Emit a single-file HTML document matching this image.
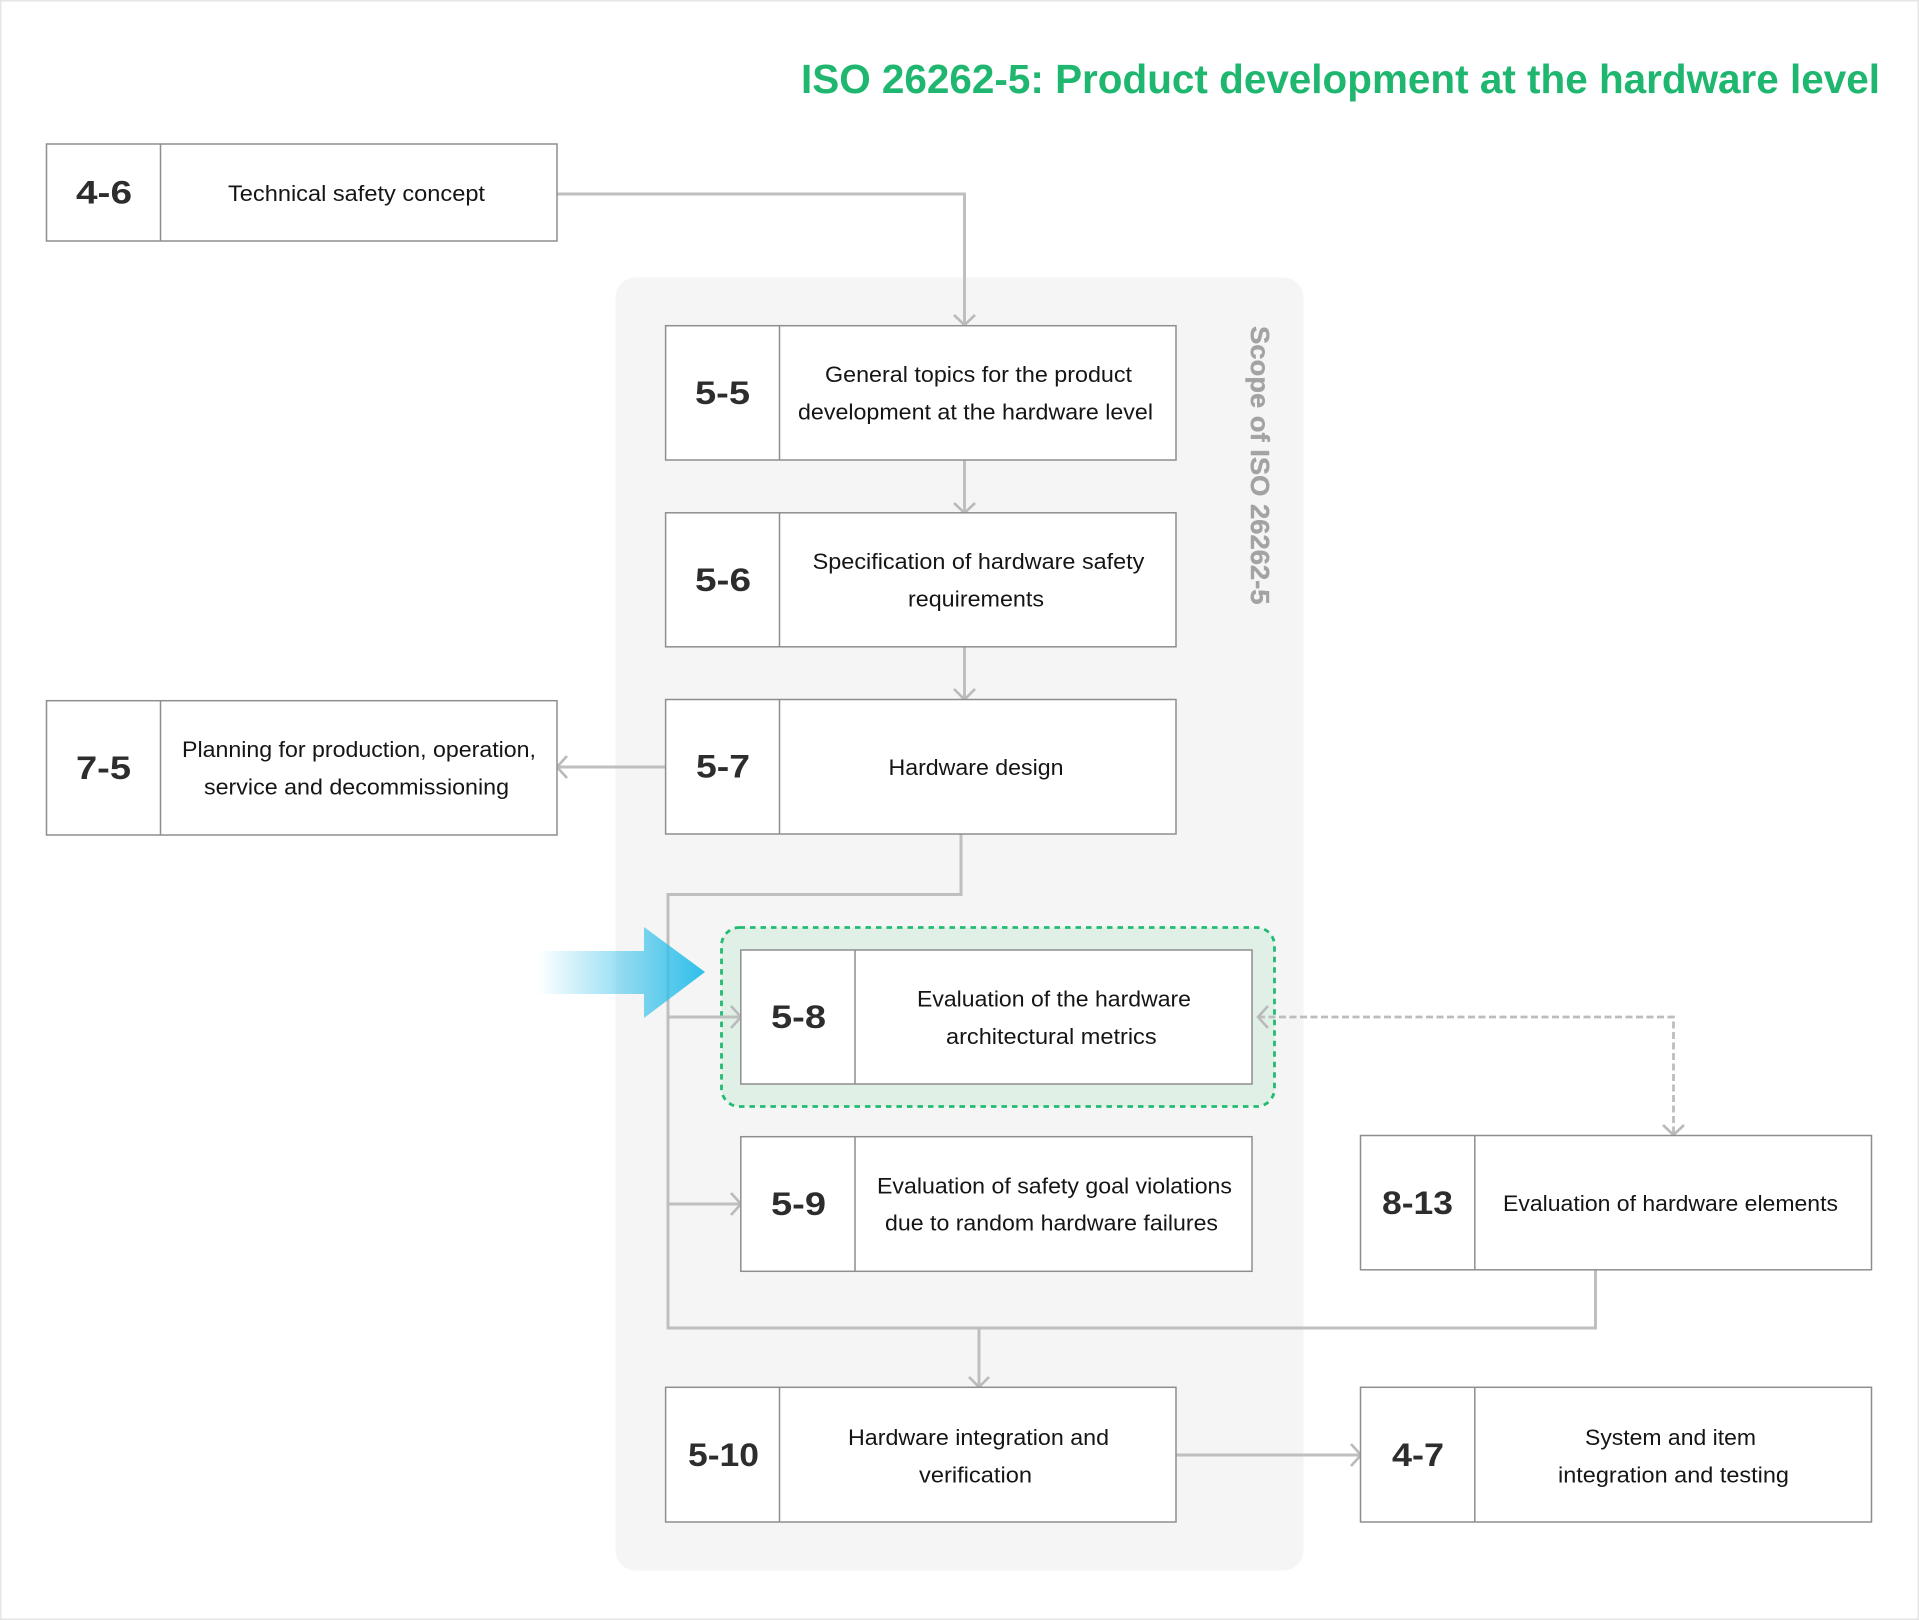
<!DOCTYPE html>
<html><head><meta charset="utf-8"><title>ISO 26262-5</title>
<style>
html,body{margin:0;padding:0;background:#fff}
svg{display:block}
text{font-family:"Liberation Sans",sans-serif}
.b{fill:#fff;stroke:#8e8e8e;stroke-width:1.5}
.d{stroke:#8e8e8e;stroke-width:1.5}
.l{fill:none;stroke:#bfbfbf;stroke-width:3}
.a{fill:none;stroke:#bababa;stroke-width:2.6}
.t{font-size:22px;fill:#151515}
.n{font-size:32px;font-weight:bold;fill:#2d2d2d}
</style></head><body>
<svg width="1919" height="1620" viewBox="0 0 1919 1620" xmlns="http://www.w3.org/2000/svg">
<defs><linearGradient id="g" gradientUnits="userSpaceOnUse" x1="538" y1="0" x2="705" y2="0">
<stop offset="0" stop-color="#2fbfea" stop-opacity="0"/><stop offset="1" stop-color="#2fbfea"/></linearGradient></defs>
<rect x="0.5" y="0.5" width="1918" height="1619" fill="#fff" stroke="#e6e6e6" stroke-width="2"/>
<text x="801" y="93" style="font-size:41px;font-weight:bold" fill="#1fb66f" textLength="1079" lengthAdjust="spacingAndGlyphs">ISO 26262-5: Product development at the hardware level</text>
<rect x="615.5" y="277.5" width="688" height="1293" rx="20" fill="#f5f5f5"/>
<text transform="translate(1251,326) rotate(90)" style="font-size:26px;font-weight:bold" fill="#a3a3a3" stroke="#a3a3a3" stroke-width="0.4" textLength="278.5" lengthAdjust="spacingAndGlyphs">Scope of ISO 26262-5</text>
<rect x="721.5" y="927.5" width="553" height="179" rx="18" fill="#e0f0e7" stroke="#22bb72" stroke-width="2.8" stroke-dasharray="5.5 5"/>
<path class="l" d="M557 194H964.5V325M964.5 460V513M964.5 647V699.5M666 767H557M961 834V894.5H668V1328H1595.5V1270M979 1328V1387M668 1017H740M668 1204H740M1176 1455H1360"/>
<path d="M1258 1017H1673.5V1135" fill="none" stroke="#bdbdbd" stroke-width="2.8" stroke-dasharray="7 3.5"/>
<path class="a" d="M954 315L964.5 325L975 315M954 503L964.5 513L975 503M954 689L964.5 699.5L975 689M567 756L557 767L567 778M969 1377L979 1387L989 1377M731 1006L741 1017L731 1028M731 1193L741 1204L731 1215M1351 1444L1361 1455L1351 1466M1268 1006L1258 1017L1268 1028M1663 1125L1673.5 1135L1684 1125"/>
<path fill="url(#g)" d="M538 951H644V927L705 972L644 1018V994H538Z"/>
<g>
<rect class="b" x="46.5" y="144" width="510.5" height="97"/><path class="d" d="M160.5 144V241"/>
<rect class="b" x="665.6" y="325.7" width="510.4" height="134.3"/><path class="d" d="M779.5 325.7V460"/>
<rect class="b" x="665.6" y="512.8" width="510.4" height="134"/><path class="d" d="M779.5 512.8V646.8"/>
<rect class="b" x="665.6" y="699.5" width="510.4" height="134.5"/><path class="d" d="M779.5 699.5V834"/>
<rect class="b" x="46.5" y="700.7" width="510.5" height="134.3"/><path class="d" d="M160.5 700.7V835"/>
<rect class="b" x="740.8" y="950" width="511.2" height="134"/><path class="d" d="M855 950V1084"/>
<rect class="b" x="740.8" y="1136.7" width="511.2" height="134.6"/><path class="d" d="M855 1136.7V1271.3"/>
<rect class="b" x="1360.5" y="1135.5" width="511" height="134.3"/><path class="d" d="M1474.8 1135.5V1269.8"/>
<rect class="b" x="1360.5" y="1387.3" width="511" height="134.7"/><path class="d" d="M1474.8 1387.3V1522"/>
<rect class="b" x="665.6" y="1387.3" width="510.4" height="134.7"/><path class="d" d="M779.5 1387.3V1522"/>
</g>
<g class="n">
<text class="n" x="76" y="203.5" textLength="56" lengthAdjust="spacingAndGlyphs">4-6</text>
<text class="n" x="695" y="404" textLength="55" lengthAdjust="spacingAndGlyphs">5-5</text>
<text class="n" x="695" y="591" textLength="56" lengthAdjust="spacingAndGlyphs">5-6</text>
<text class="n" x="696" y="777.5" textLength="54" lengthAdjust="spacingAndGlyphs">5-7</text>
<text class="n" x="76" y="779" textLength="55" lengthAdjust="spacingAndGlyphs">7-5</text>
<text class="n" x="771" y="1028" textLength="55" lengthAdjust="spacingAndGlyphs">5-8</text>
<text class="n" x="771" y="1215" textLength="55" lengthAdjust="spacingAndGlyphs">5-9</text>
<text class="n" x="1382" y="1214" textLength="71" lengthAdjust="spacingAndGlyphs">8-13</text>
<text class="n" x="1392" y="1466" textLength="52" lengthAdjust="spacingAndGlyphs">4-7</text>
<text class="n" x="688" y="1466" textLength="71" lengthAdjust="spacingAndGlyphs">5-10</text>
</g>
<text class="t" x="228" y="201" textLength="257" lengthAdjust="spacingAndGlyphs">Technical safety concept</text>
<text class="t" x="825" y="382" textLength="307" lengthAdjust="spacingAndGlyphs">General topics for the product</text>
<text class="t" x="798" y="419.5" textLength="355" lengthAdjust="spacingAndGlyphs">development at the hardware level</text>
<text class="t" x="812.7" y="569" textLength="331.7" lengthAdjust="spacingAndGlyphs">Specification of hardware safety</text>
<text class="t" x="908" y="606.5" textLength="136" lengthAdjust="spacingAndGlyphs">requirements</text>
<text class="t" x="888.5" y="775" textLength="175" lengthAdjust="spacingAndGlyphs">Hardware design</text>
<text class="t" x="182" y="757" textLength="354" lengthAdjust="spacingAndGlyphs">Planning for production, operation,</text>
<text class="t" x="204" y="794.5" textLength="305" lengthAdjust="spacingAndGlyphs">service and decommissioning</text>
<text class="t" x="917" y="1006.7" textLength="274" lengthAdjust="spacingAndGlyphs">Evaluation of the hardware</text>
<text class="t" x="946" y="1044" textLength="210.6" lengthAdjust="spacingAndGlyphs">architectural metrics</text>
<text class="t" x="877" y="1193.7" textLength="355" lengthAdjust="spacingAndGlyphs">Evaluation of safety goal violations</text>
<text class="t" x="885" y="1230.7" textLength="333" lengthAdjust="spacingAndGlyphs">due to random hardware failures</text>
<text class="t" x="1503" y="1211" textLength="335" lengthAdjust="spacingAndGlyphs">Evaluation of hardware elements</text>
<text class="t" x="1585" y="1445" textLength="171" lengthAdjust="spacingAndGlyphs">System and item</text>
<text class="t" x="1558" y="1482.5" textLength="231" lengthAdjust="spacingAndGlyphs">integration and testing</text>
<text class="t" x="848" y="1445" textLength="261" lengthAdjust="spacingAndGlyphs">Hardware integration and</text>
<text class="t" x="919" y="1482.5" textLength="113" lengthAdjust="spacingAndGlyphs">verification</text>
</svg>
</body></html>
